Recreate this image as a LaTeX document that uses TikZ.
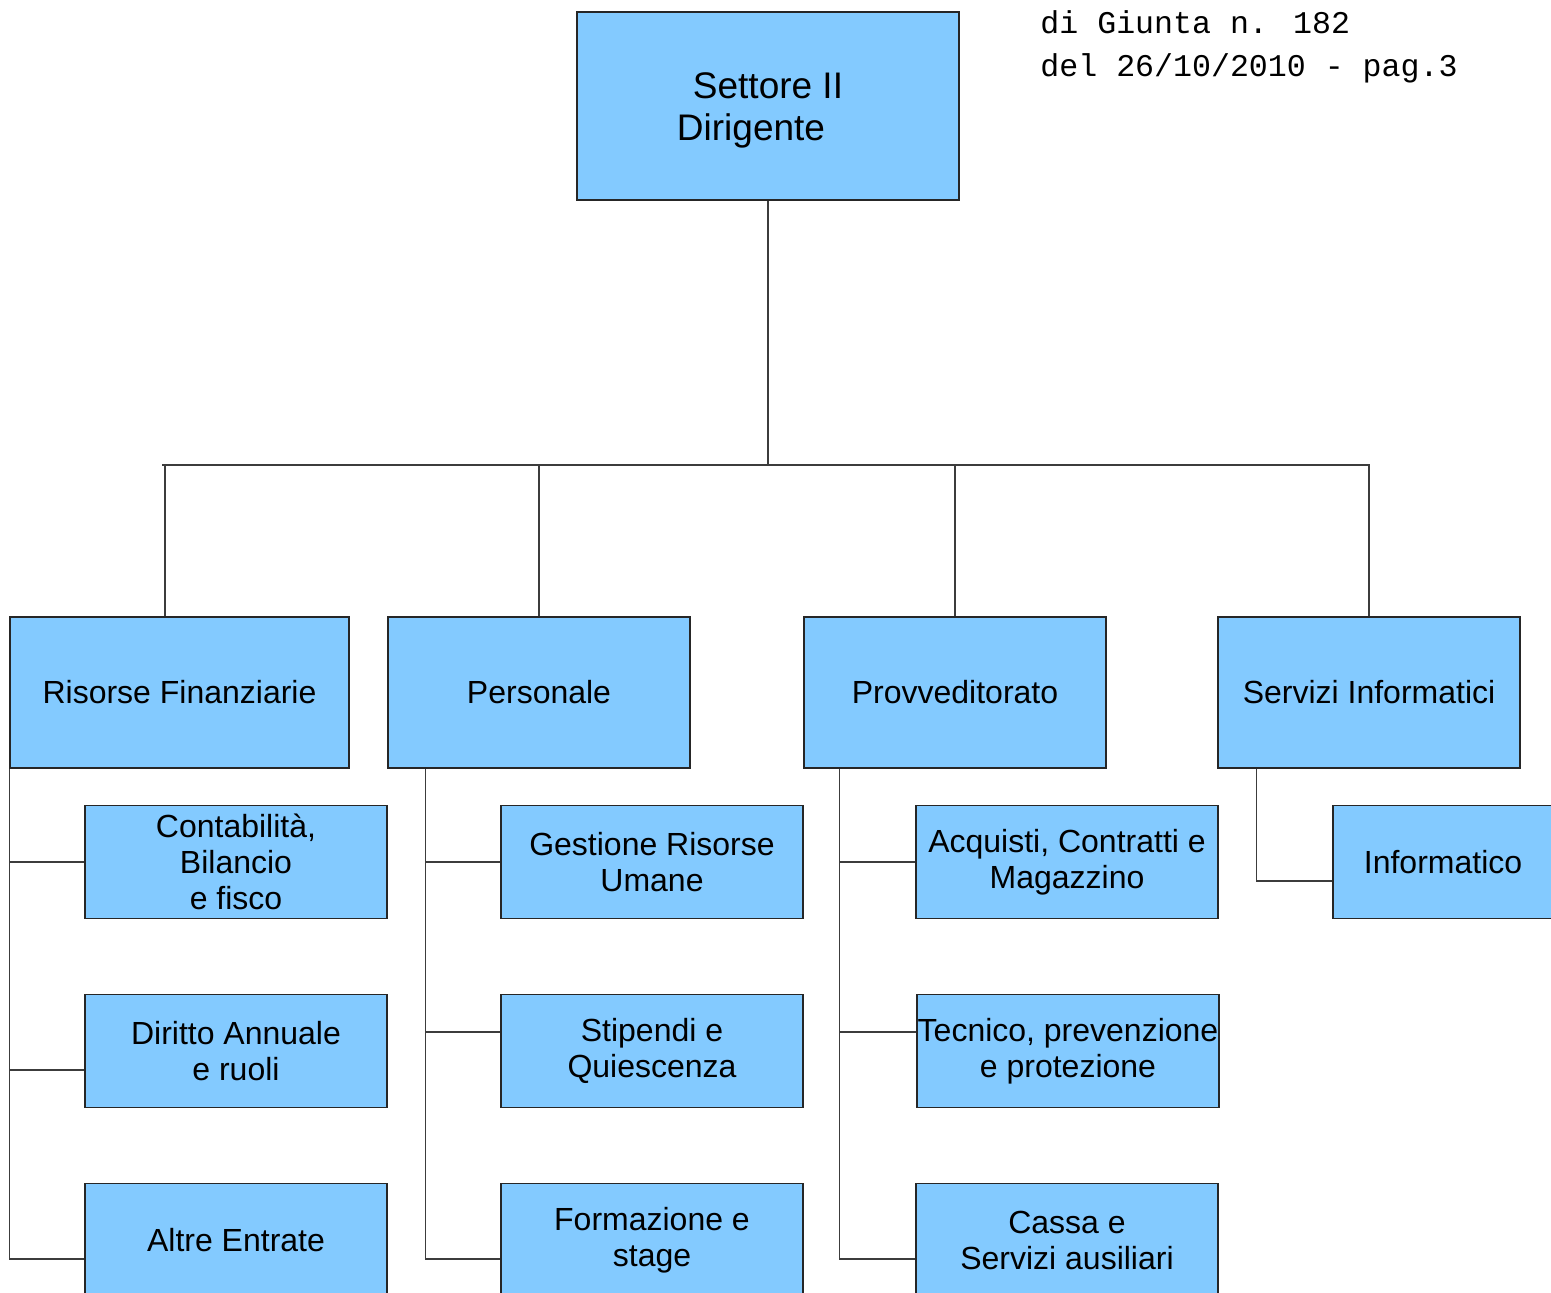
\documentclass[tikz,border=0pt]{standalone}
\usepackage{fontspec}
\setmainfont{Liberation Sans}
\newfontfamily\headfont{Liberation Mono}
\usepackage{xcolor}
\usepackage{tikz}
\usetikzlibrary{calc}

\definecolor{boxblue}{RGB}{131,202,255}
\definecolor{linkgray}{RGB}{60,60,60}

\begin{document}
\begin{tikzpicture}[x=0.5pt, y=-0.5pt,
    unit/.style={draw=black!85, fill=boxblue, line width=0.7pt, inner sep=0pt,
        align=center, font=\fontsize{16}{18}\selectfont},
    office/.style={unit, minimum width=151pt, minimum height=75.5pt},
    desk/.style={unit, minimum width=151pt, minimum height=56.5pt},
    link/.style={linkgray, line width=0.75pt}]
    \useasboundingbox (0,0) rectangle (1551,1292);
    \clip (0,0) rectangle (1551,1292);

    % Header
    \node[anchor=base west, inner sep=0pt, font=\headfont\fontsize{15.8}{20}\selectfont] (h1) at (1040,33) {di Giunta n. 182};
    \node[anchor=base west, inner sep=0pt, font=\headfont\fontsize{15.8}{20}\selectfont] (h2) at (1040,76) {del 26/10/2010 - pag.3};

    % Settore
    \node[unit, minimum width=191pt, minimum height=94pt, font=\fontsize{18.5}{21}\selectfont]
        (sd) at (768,106) {\rule{0pt}{17.5pt}Settore II\\Dirigente\makebox[17pt]{}};

    % Uffici
    \node[office, minimum width=169.5pt] (rf) at (179.5,692.5) {Risorse Finanziarie};
    \node[office] (pe) at (539,692.5) {Personale};
    \node[office] (pv) at (955,692.5) {Provveditorato};
    \node[office] (si) at (1369,692.5) {Servizi Informatici};

    % Servizi
    \node[desk] (cb) at (236,862) {Contabilit\`a,\\Bilancio\\e fisco};
    \node[desk] (da) at (236,1051) {Diritto Annuale\\e ruoli};
    \node[desk] (ae) at (236,1240) {Altre Entrate};
    \node[desk] (gr) at (652,862) {Gestione Risorse\\Umane};
    \node[desk] (sq) at (652,1051) {Stipendi e\\Quiescenza};
    \node[desk] (fs) at (652,1240) {Formazione e\\stage};
    \node[desk] (ac) at (1067,862) {Acquisti, Contratti e\\Magazzino};
    \node[desk] (tp) at (1068,1051) {Tecnico, prevenzione\\e protezione};
    \node[desk] (cs) at (1067,1240) {Cassa e\\Servizi ausiliari};
    \node[desk, minimum width=110pt] (inf) at (1443,862) {Informatico};

    % Bus
    \coordinate (busL) at (162,465);
    \coordinate (busR) at (1370,465);
    \draw[link] (busL) -- (busR);
    \draw[link] (sd.south) -- (sd.south |- busL);
    \draw[link] ([xshift=-7.25pt]rf.north) -- ([xshift=-7.25pt]rf.north |- busL);
    \foreach \n in {pe,pv,si} {
        \draw[link] (\n.north) -- (\n.north |- busL);
    }

    % Risorse Finanziarie
    \draw[link] (rf.south west) |- (cb.west);
    \draw[link] (rf.south west) |- ($(da.west)+(0,19)$);
    \draw[link] (rf.south west) |- ($(ae.west)+(0,19)$);

    % Personale
    \draw[link] ([xshift=19pt]pe.south west) |- (gr.west);
    \draw[link] ([xshift=19pt]pe.south west) |- ($(sq.west)+(0,-19)$);
    \draw[link] ([xshift=19pt]pe.south west) |- ($(fs.west)+(0,19)$);

    % Provveditorato
    \draw[link] ([xshift=18pt]pv.south west) |- (ac.west);
    \draw[link] ([xshift=18pt]pv.south west) |- ($(tp.west)+(0,-19)$);
    \draw[link] ([xshift=18pt]pv.south west) |- ($(cs.west)+(0,19)$);

    % Servizi Informatici
    \draw[link] ([xshift=19.5pt]si.south west) |- ($(inf.west)+(0,19)$);

\end{tikzpicture}
\end{document}
